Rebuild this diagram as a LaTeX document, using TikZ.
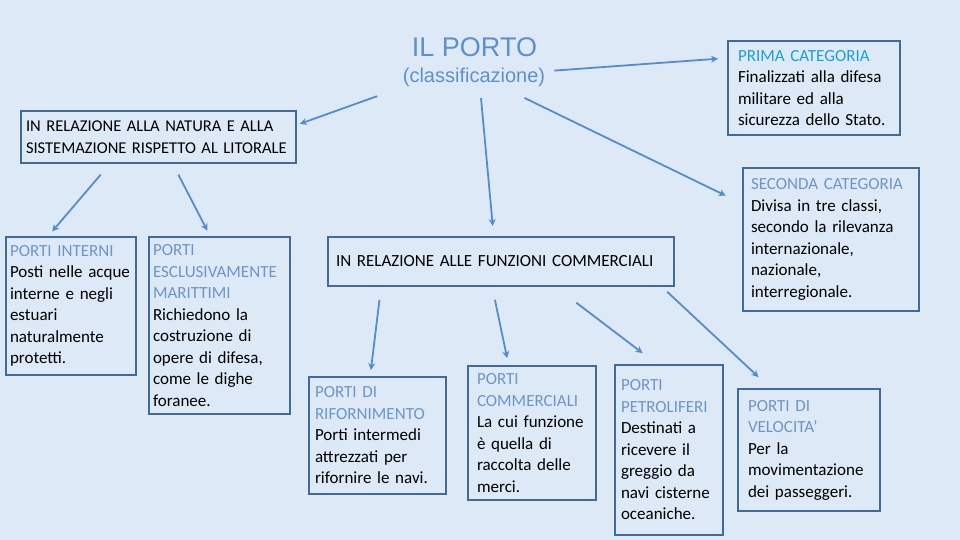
\documentclass[tikz,border=0pt]{standalone}
\usepackage{fontspec}
\setmainfont{Carlito}
\newfontfamily\arialfont{Liberation Sans}
\usepackage{xcolor}
\usetikzlibrary{arrows.meta}
\definecolor{bgblue}{RGB}{221,233,246}
\definecolor{boxline}{RGB}{66,106,146}
\definecolor{arrowblue}{RGB}{88,141,196}
\definecolor{titleblue}{RGB}{96,145,198}
\definecolor{headblue}{RGB}{110,150,194}
\definecolor{headcyan}{RGB}{28,160,210}
\newcommand\hd[1]{\textcolor{headblue}{#1}}
\tikzset{
blockbox/.style={draw=boxline,line width=2pt,anchor=north west,align=left,inner xsep=5pt,inner ysep=0pt,font=\fontsize{17}{21.5}\selectfont},
arr/.style={draw=arrowblue,line width=1.8pt,-{Stealth[length=7pt,width=7pt]}}
}
\begin{document}
\begin{tikzpicture}[x=1pt,y=-1pt]
\fill[bgblue](0,0)rectangle(960,540);
\useasboundingbox(0,0)rectangle(960,540);
% titolo
\node[text=titleblue,font=\arialfont\fontsize{27}{30}\selectfont,inner sep=0pt](porto)at(474.5,47.5){IL PORTO};
\node[text=titleblue,font=\arialfont\fontsize{20}{24}\selectfont,inner sep=0pt](classif)at(474,77.5){(classificazione)};
% riquadri
\node[blockbox,font=\fontsize{16.5}{21.5}\selectfont,minimum width=275,minimum height=52,text width=265](litorale)at(20,110)
{IN~RELAZIONE~ALLA~NATURA~E~ALLA\\SISTEMAZIONE~RISPETTO~AL~LITORALE};
\node[blockbox,inner xsep=10pt,minimum width=172,minimum height=94,text width=152](prima)at(727,40)
{\textcolor{headcyan}{PRIMA CATEGORIA}\\Finalizzati alla difesa\\militare ed alla\\sicurezza dello Stato.};
\node[blockbox,inner xsep=8pt,minimum width=176,minimum height=143,text width=160](seconda)at(742,167)
{\hd{SECONDA CATEGORIA}\\Divisa in tre classi,\\secondo la rilevanza\\internazionale,\\nazionale,\\interregionale.};
\node[blockbox,inner xsep=4pt,minimum width=130,minimum height=138,text width=122](interni)at(5,236)
{\hd{PORTI INTERNI}\\Posti nelle acque\\interne e negli\\estuari\\naturalmente\\protetti.};
\node[blockbox,inner xsep=4pt,minimum width=141,minimum height=177,text width=133](esclusivi)at(148,236)
{\hd{PORTI}\\\hd{ESCLUSIVAMENTE}\\\hd{MARITTIMI}\\Richiedono la\\costruzione di\\opere di difesa,\\come le dighe\\foranee.};
\node[blockbox,inner xsep=8pt,minimum width=346,minimum height=49,text width=330](funzioni)at(327,236)
{IN RELAZIONE ALLE FUNZIONI COMMERCIALI};
\node[blockbox,inner xsep=6pt,minimum width=137,minimum height=117,text width=125](rifornimento)at(308,376)
{\hd{PORTI DI}\\\hd{RIFORNIMENTO}\\Porti intermedi\\attrezzati per\\rifornire le navi.};
\node[blockbox,inner xsep=9pt,minimum width=128,minimum height=134,text width=110](commerciali)at(467,365)
{\hd{PORTI}\\\hd{COMMERCIALI}\\La cui funzione\\è quella di\\raccolta delle\\merci.};
\node[blockbox,inner xsep=6pt,minimum width=108,minimum height=170,text width=96](petroliferi)at(614,364)
{\hd{PORTI}\\\hd{PETROLIFERI}\\Destinati a\\ricevere il\\greggio da\\navi cisterne\\oceaniche.};
\node[blockbox,inner xsep=10pt,minimum width=142,minimum height=122,text width=122](velocita)at(737,388)
{\hd{PORTI DI}\\\hd{VELOCITA'}\\Per la\\movimentazione\\dei passeggeri.};
% frecce
\draw[arr,shorten <=27pt,shorten >=3pt](classif.south west)--(litorale.5);
\draw[arr,shorten <=11pt,shorten >=10pt]([xshift=6pt]classif.south)--(funzioni.106);
\draw[arr,shorten <=9pt,shorten >=9pt](classif.5)--(prima.161);
\draw[arr,shorten <=25pt,shorten >=18pt]([xshift=28pt]classif.south)--(seconda.158);
\draw[arr,shorten <=14pt,shorten >=6pt](litorale.-151)--(interni.108);
\draw[arr,shorten <=12pt,shorten >=6pt](litorale.-62)--(esclusivi.96);
\draw[arr,shorten <=13pt,shorten >=6pt](funzioni.192)--(rifornimento.97);
\draw[arr,shorten <=13pt,shorten >=7pt](funzioni.251)--(commerciali.109);
\draw[arr,shorten <=26pt,shorten >=18pt](funzioni.-25)--(petroliferi.98);
\draw[arr,shorten <=7pt,shorten >=16pt](funzioni.-9)--(velocita.122);
\end{tikzpicture}
\end{document}
